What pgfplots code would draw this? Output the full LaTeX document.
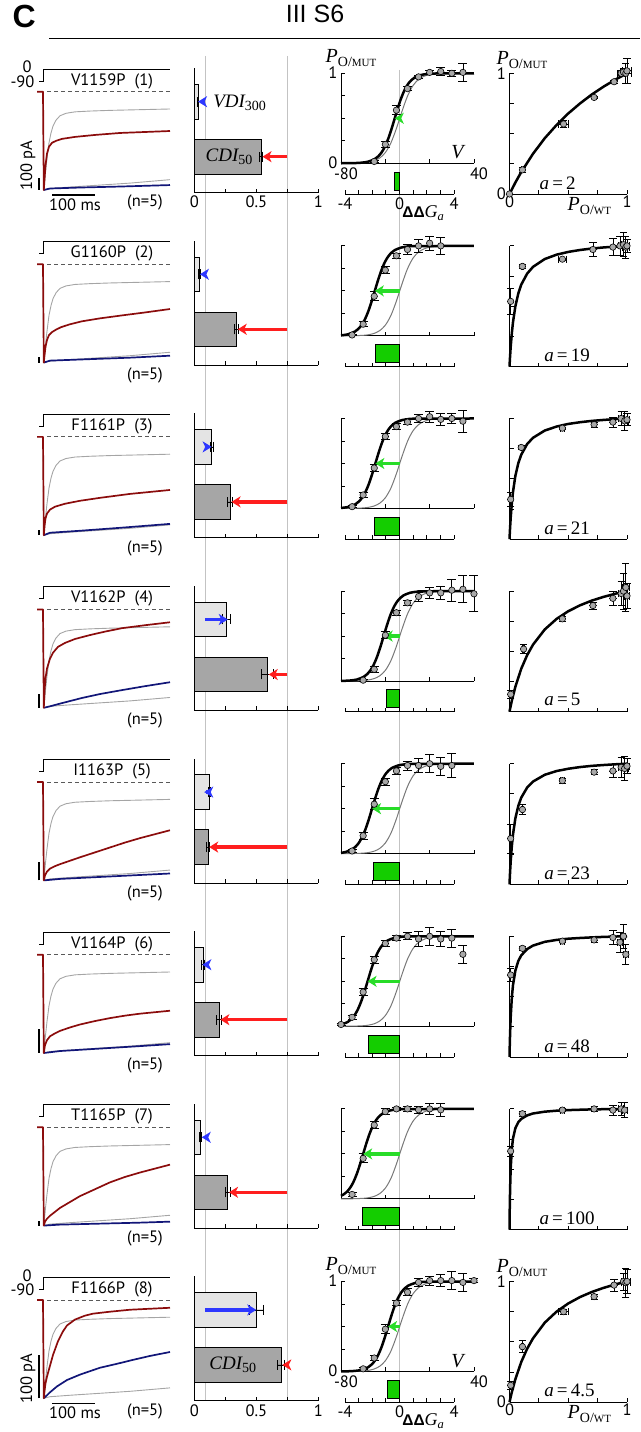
\documentclass[border=0pt]{standalone}
\usepackage{pgfplots}
\pgfplotsset{compat=1.18}
\usepackage{pgfplotstable}
\usetikzlibrary{arrows.meta}
\usepackage{fontspec}
\setmainfont{PT Sans}
\newfontfamily\tms{Liberation Serif}
\newfontfamily\ari{Liberation Sans}

\definecolor{tred}{RGB}{139,12,12}
\definecolor{tblue}{RGB}{18,22,120}
\definecolor{tgray}{RGB}{165,165,165}
\definecolor{wtgray}{RGB}{120,120,120}
\definecolor{ared}{RGB}{255,30,30}
\definecolor{ablue}{RGB}{45,55,255}
\definecolor{agreen}{RGB}{40,220,40}
\definecolor{bgreen}{RGB}{20,205,0}
\definecolor{barlight}{RGB}{228,228,228}
\definecolor{bardark}{RGB}{166,166,166}
\definecolor{ptfill}{RGB}{168,168,168}
\definecolor{vline}{RGB}{195,195,195}

\newcommand\lab{\fontsize{16.5}{18}\selectfont}
\newcommand\POmut{{\tms\fontsize{20}{21}\selectfont\itshape P}{\tms\fontsize{14}{15}\selectfont\raisebox{-3.5pt}{O/{\fontsize{11}{12}\selectfont MUT}}}}
\newcommand\POwt{{\tms\fontsize{20}{21}\selectfont\itshape P}{\tms\fontsize{14}{15}\selectfont\raisebox{-3.5pt}{O/{\fontsize{11}{12}\selectfont WT}}}}
\newcommand\VDI{{\tms\fontsize{19}{20}\selectfont\itshape VDI}{\tms\fontsize{14}{15}\selectfont\raisebox{-3.5pt}{300}}}
\newcommand\CDI{{\tms\fontsize{19}{20}\selectfont\itshape CDI}{\tms\fontsize{14}{15}\selectfont\raisebox{-3.5pt}{50}}}
\newcommand\DGa{{\ari\bfseries\fontsize{15.5}{17}\selectfont ΔΔ}{\tms\itshape\fontsize{18}{19}\selectfont G}{\tms\itshape\fontsize{12.5}{13}\selectfont\raisebox{-3pt}{a}}}
\newcommand\Vlab{{\tms\itshape\fontsize{20}{21}\selectfont V}}
\newcommand\alab[1]{{\tms\fontsize{19}{20}\selectfont\textit{a}\,=\,#1}}

\pgfplotsset{
  panel/.style={scale only axis, anchor=south west, clip=false, enlargelimits=false,
    axis line style={line width=0.8pt}, tick style={black, line width=0.8pt},
    major tick length=4pt, tick label style={font=\lab},
    /pgf/number format/assume math mode=true},
  pos/.style 2 args={at={(#1pt,{(1432-#2-\off)*1pt})}},
  trace/.style={panel, hide axis, width=131pt, height=121pt, xmin=39, xmax=170, ymin=-1, ymax=0.231},
  vbar/.style={panel, width=124pt, height=124.4pt, xmin=0, xmax=1, ymin=0, ymax=124.4,
    axis x line*=bottom, axis y line*=left, xtick={0,0.25,0.5,0.75,1}, xticklabels={}, ytick=\empty},
  boltz/.style={panel, width=133pt, height=90pt, xmin=-80, xmax=40, ymin=0, ymax=1,
    axis x line*=bottom, axis y line*=left, xtick={-80,-40,0,40}, ytick={0,0.25,0.5,0.75,1},
    xticklabels={}, yticklabels={}, xticklabel style={xshift=5pt, yshift=-1pt},
    yticklabel style={yshift=1pt}},
  dga/.style={panel, width=109pt, height=24pt, xmin=-4, xmax=4, ymin=0, ymax=24,
    axis x line*=bottom, axis y line=none, xtick={-4,-3,-2,-1,0,1,2,3,4}, xticklabels={}},
  po/.style={panel, width=117.5pt, height=120.7pt, xmin=0, xmax=1, ymin=0, ymax=1,
    axis x line*=bottom, axis y line*=left, xtick={0,0.25,0.5,0.75,1}, ytick={0,0.25,0.5,0.75,1},
    xticklabels={}, yticklabels={}, xticklabel style={yshift=2pt}},
  tr/.style={line width=1.7pt, line join=round},
  gtr/.style={tgray, line width=0.9pt, line join=round},
  arr/.style={line width=3.4pt, -{Stealth[length=9pt,width=11pt,inset=2.5pt]}},
  hbar/.style={xbar, bar shift=0pt, draw=black, line width=0.7pt,
    error bars/x dir=both, error bars/x explicit,
    error bars/error bar style={black, line width=0.7pt},
    error bars/error mark options={rotate=90, black, mark size=5pt, line width=0.7pt}},
  % error bars first, then marks on top
  errs/.style={only marks, mark=none,
    error bars/y dir=both, error bars/y explicit,
    error bars/error bar style={draw=black, line width=0.8pt},
    error bars/error mark options={rotate=90, draw=black, mark size=4.5pt, line width=0.8pt}},
  errs2/.style={errs, error bars/x dir=both, error bars/x explicit,
    error bars/error mark options={rotate=90, draw=black, mark size=3.6pt, line width=0.8pt}},
  pts/.style={only marks, mark=*, mark size=3.2pt, mark options={fill=ptfill, draw=black, line width=0.6pt}},
  mutc/.style={black, line width=2.5pt, smooth},
  poc/.style={black, line width=2.5pt, line join=round},
  gbar/.style={xbar, bar width=18, bar shift=0pt, fill=bgreen, draw=black, line width=0.7pt},
  vstep/.style={black, line width=0.9pt},
}

% WT reference curve and reference traces
\pgfplotstableread{
V P
-80 0.0003
-70 0.0013
-60 0.0062
-55 0.0133
-50 0.0282
-45 0.0591
-40 0.119
-35 0.226
-30 0.387
-25 0.576
-20 0.746
-15 0.864
-10 0.932
-5 0.967
0 0.985
10 0.997
20 0.999
40 1
}\wt
\pgfplotstableread{
t I
37 0
43 0
43.8 -1
44.5 -0.93
45.5 -0.82
47 -0.68
49 -0.52
51 -0.42
53 -0.35
56 -0.29
60 -0.245
66 -0.22
75 -0.205
90 -0.197
110 -0.19
140 -0.183
170 -0.176
}\gup
\pgfplotstableread{
t I
43.8 -1
50 -0.985
70 -0.97
100 -0.95
130 -0.93
170 -0.895
}\glow

% activation points (V, Po, sem), one table per mutant
\pgfplotstableread{
x y e
-50 0.02 0.01
-40 0.21 0.03
-30 0.59 0.05
-20 0.83 0.02
-10 0.96 0.02
0 1.01 0.02
10 1.02 0.04
20 1.0 0.03
30 1.01 0.1
}\bA
\pgfplotstableread{
x y e
-70 0.01 0.01
-60 0.13 0.03
-50 0.44 0.05
-40 0.73 0.04
-30 0.89 0.03
-20 0.96 0.06
-10 1.0 0.07
0 1.03 0.08
10 1.0 0.09
}\bB
\pgfplotstableread{
x y e
-70 0.02 0.01
-60 0.15 0.03
-50 0.45 0.04
-40 0.8 0.03
-30 0.91 0.03
-20 0.96 0.03
-10 1.0 0.04
0 1.02 0.06
10 0.99 0.07
20 1.0 0.06
30 0.97 0.12
}\bC
\pgfplotstableread{
x y e
-60 0.01 0.01
-50 0.13 0.03
-40 0.51 0.04
-30 0.76 0.03
-20 0.87 0.03
-10 0.94 0.05
0 0.98 0.06
10 0.98 0.07
20 1.01 0.12
30 1.02 0.15
40 0.97 0.2
}\bD
\pgfplotstableread{
x y e
-70 0.03 0.02
-60 0.2 0.04
-50 0.55 0.06
-40 0.8 0.04
-30 0.92 0.04
-20 0.98 0.05
-10 0.98 0.08
0 1.0 0.1
10 0.97 0.1
20 0.98 0.13
}\bE
\pgfplotstableread{
x y e
-80 0.02 0.01
-70 0.1 0.02
-60 0.38 0.04
-50 0.74 0.04
-40 0.92 0.03
-30 0.98 0.03
-20 1.0 0.04
-10 0.97 0.08
0 1.0 0.1
10 0.97 0.08
20 0.98 0.1
30 0.8 0.1
}\bF
\pgfplotstableread{
x y e
-70 0.05 0.02
-60 0.45 0.05
-50 0.82 0.04
-40 0.97 0.03
-30 1.0 0.02
-20 1.0 0.03
-10 0.99 0.04
0 1.0 0.06
10 0.99 0.07
}\bG
\pgfplotstableread{
x y e
-60 0.03 0.01
-50 0.15 0.03
-40 0.47 0.05
-30 0.76 0.03
-20 0.88 0.04
-10 0.99 0.04
0 1.01 0.05
10 1.01 0.07
20 1.01 0.1
30 0.99 0.1
40 1.01 0.02
}\bH

% Po(MUT) against Po(WT) points (x, y, x sem, y sem)
\pgfplotstableread{
x y ex ey
0 0 0 0
0.11 0.2 0.01 0.02
0.46 0.58 0.04 0.03
0.72 0.8 0 0.01
0.89 0.93 0 0.01
0.95 1.0 0.03 0.02
0.97 1.01 0.03 0.03
0.99 1.0 0.05 0.08
1.0 1.02 0.04 0.1
}\pA
\pgfplotstableread{
x y ex ey
0.01 0.54 0 0.11
0.11 0.83 0.01 0.02
0.45 0.89 0.03 0.01
0.71 0.97 0 0.06
0.88 0.99 0 0.07
0.94 1.0 0.01 0.08
0.97 1.01 0.02 0.1
0.99 0.99 0.03 0.09
1.0 1.0 0.02 0.05
}\pB
\pgfplotstableread{
x y ex ey
0.01 0.33 0 0.06
0.1 0.76 0 0.02
0.45 0.92 0.02 0.01
0.72 0.95 0 0.02
0.88 0.97 0 0.04
0.95 1.0 0.02 0.06
0.98 0.98 0.03 0.08
1.0 0.99 0.02 0.05
}\pC
\pgfplotstableread{
x y ex ey
0.01 0.145 0 0.03
0.12 0.52 0.01 0.04
0.45 0.77 0.02 0.02
0.71 0.88 0 0.03
0.88 0.94 0 0.06
0.95 0.98 0.02 0.1
0.97 1.0 0.02 0.15
0.99 1.03 0.03 0.2
1.0 0.96 0.02 0.1
}\pD
\pgfplotstableread{
x y ex ey
0.01 0.38 0 0.12
0.11 0.62 0.01 0.04
0.45 0.86 0.02 0.02
0.72 0.93 0 0.02
0.88 0.94 0 0.05
0.95 0.97 0.02 0.08
0.98 0.96 0.03 0.1
1.0 0.98 0.02 0.06
}\pE
\pgfplotstableread{
x y ex ey
0.01 0.68 0 0.05
0.11 0.9 0 0.02
0.45 0.96 0.02 0.01
0.72 0.97 0 0.02
0.88 0.99 0 0.06
0.94 0.95 0.02 0.08
0.97 1.0 0.02 0.1
0.99 0.85 0.02 0.08
}\pF
\pgfplotstableread{
x y ex ey
0.01 0.65 0 0.04
0.11 0.96 0 0.02
0.45 0.99 0.02 0.01
0.72 1.0 0 0.02
0.88 0.99 0 0.04
0.95 1.0 0.02 0.05
0.98 0.99 0.02 0.06
}\pG
\pgfplotstableread{
x y ex ey
0.01 0.14 0 0.03
0.11 0.46 0.01 0.05
0.46 0.75 0.04 0.02
0.72 0.875 0 0.02
0.89 0.97 0 0.05
0.97 1.0 0.02 0.07
0.99 0.99 0.04 0.12
1.0 1.0 0.03 0.1
}\pH

\newcommand\dash{\draw[dash pattern=on 4pt off 3pt, black!65, line width=0.8pt] (axis cs:47,0) -- (axis cs:170,0);}
\newcommand\bpts[1]{\addplot[errs] table[x=x, y=y, y error=e] {#1};
  \addplot[pts] table[x=x, y=y] {#1};}
\newcommand\ppts[1]{\addplot[errs2] table[x=x, y=y, x error=ex, y error=ey] {#1};
  \addplot[pts] table[x=x, y=y] {#1};}

\begin{document}
\begin{tikzpicture}[x=1pt,y=1pt]
\useasboundingbox (0,0) rectangle (640,1432);
\node[font=\ari\bfseries\fontsize{32}{34}\selectfont, anchor=west] at (9,1432-17) {C};
\node[font=\ari\fontsize{25}{27}\selectfont] at (315,1432-14) {III S6};
\draw[line width=1.2pt] (49,1432-38.3) -- (640,1432-38.3);
\draw[vline, line width=0.8pt] (205.5,1432-56) -- (205.5,31.1);
\draw[vline, line width=0.8pt] (287.3,1432-56) -- (287.3,31.1);
\draw[vline, line width=0.8pt] (399.5,1432-70) -- (399.5,29.8);

%================ ROW 1
\def\off{0}
\begin{axis}[trace, pos={39}{190}]
\addplot[vstep] coordinates {(39,0.109)(43,0.109)(43,0.231)(170,0.231)};
\dash
\addplot[gtr] table {\gup};
\addplot[gtr] table {\glow};
\addplot[tblue, tr] coordinates {(43.8,-1)(50,-0.985)(80,-0.975)(120,-0.965)(170,-0.95)};
\addplot[tred, tr] coordinates {(37,0)(43,0)(43.8,-1)(44.6,-0.88)(45.5,-0.75)(47,-0.63)(49,-0.56)(52,-0.52)(56,-0.5)(62,-0.48)(75,-0.46)(95,-0.44)(120,-0.42)(145,-0.41)(170,-0.40)};
\draw[line width=1.3pt] (axis cs:39,-1) -- (axis cs:39,-0.878);
\node[font=\lab] at (axis cs:112,0.109) {V1159P\hspace{0.55em}(1)};
\node[font=\lab] at (axis cs:145,-1.13) {(n=5)};
\node[font=\lab, anchor=east] at (axis cs:38,0.105) {-90};
\node[font=\lab] at (axis cs:27,0.25) {0};
\node[font=\lab, rotate=90] at (axis cs:28,-0.75) {100 pA};
\draw[line width=1.3pt] (axis cs:52,-1.051) -- (axis cs:95,-1.051);
\node[font=\lab] at (axis cs:75,-1.15) {100 ms};
\end{axis}
\begin{axis}[vbar, pos={194.3}{192.7}, xticklabels={0,,0.5,,1}]
\addplot[hbar, bar width=34.7, fill=barlight] coordinates {(0.03,91) +- (0.005,0)};
\addplot[hbar, bar width=34.7, fill=bardark] coordinates {(0.54,36) +- (0.012,0)};
\addplot[ablue, arr] coordinates {(0.09,91)(0.03,91)};
\addplot[ared, arr] coordinates {(0.75,36)(0.55,36)};
\node[anchor=west] at (axis cs:0.125,89.7) {\VDI};
\node at (axis cs:0.28,36) {\CDI};
\end{axis}
\begin{axis}[boltz, pos={341}{163.3}, xticklabels={-80,,,40}, yticklabels={0,,,,1}]
\addplot[wtgray, line width=1pt, smooth] table {\wt};
\addplot[mutc] coordinates {(-80,0.0003)(-67.5,0.0025)(-61.5,0.0067)(-55.5,0.018)(-49.5,0.0474)(-46.5,0.0759)(-43.5,0.119)(-40.5,0.182)(-37.5,0.269)(-34.5,0.378)(-31.5,0.5)(-28.5,0.622)(-25.5,0.731)(-22.5,0.818)(-19.5,0.881)(-16.5,0.924)(-13.5,0.953)(-7.5,0.982)(-1.5,0.993)(4.5,0.9975)(40,1)};
\bpts{\bA}
\addplot[agreen, arr] coordinates {(-27,0.5)(-31.5,0.5)};
\node[anchor=west] at (axis cs:-97,1.17) {\POmut};
\node at (axis cs:25,0.12) {\Vlab};
\end{axis}
\begin{axis}[dga, pos={345}{194}, xticklabels={-4,,,,0,,,,4}]
\addplot[gbar] coordinates {(-0.4,13)};
\node[anchor=west, inner sep=0pt] at (axis cs:0.2,-19) {\DGa};
\end{axis}
\begin{axis}[po, pos={509.5}{194}, xticklabels={0,,,,1}, yticklabels={0,,,,1}]
\addplot[poc] coordinates {(0,0)(0.05,0.095)(0.1,0.182)(0.2,0.333)(0.3,0.462)(0.4,0.571)(0.5,0.667)(0.6,0.75)(0.7,0.824)(0.8,0.889)(0.9,0.947)(1,1)};
\ppts{\pA}
\node at (axis cs:0.41,0.09) {\alab{2}};
\node[anchor=west] at (axis cs:-0.14,1.11) {\POmut};
\node at (axis cs:0.68,-0.1) {\POwt};
\end{axis}

%================ ROW 2
\def\off{172.6}
\begin{axis}[trace, pos={39}{190}]
\addplot[vstep] coordinates {(39,0.109)(43,0.109)(43,0.231)(170,0.231)};
\dash
\addplot[gtr] table {\gup};
\addplot[gtr] table {\glow};
\addplot[tblue, tr] coordinates {(43.8,-1)(50,-0.98)(90,-0.965)(130,-0.95)(170,-0.93)};
\addplot[tred, tr] coordinates {(37,0)(43,0)(43.8,-1)(44.6,-0.92)(45.5,-0.84)(47,-0.77)(49,-0.72)(52,-0.69)(56,-0.665)(61,-0.64)(70,-0.61)(82,-0.58)(100,-0.55)(122,-0.52)(145,-0.49)(170,-0.455)};
\draw[line width=1.3pt] (axis cs:39,-1) -- (axis cs:39,-0.939);
\node[font=\lab] at (axis cs:112,0.109) {G1160P\hspace{0.55em}(2)};
\node[font=\lab] at (axis cs:145,-1.13) {(n=5)};
\end{axis}
\begin{axis}[vbar, pos={194.3}{192.7}]
\addplot[hbar, bar width=34.7, fill=barlight] coordinates {(0.04,91) +- (0.005,0)};
\addplot[hbar, bar width=34.7, fill=bardark] coordinates {(0.34,36) +- (0.015,0)};
\addplot[ablue, arr] coordinates {(0.09,91)(0.045,91)};
\addplot[ared, arr] coordinates {(0.75,36)(0.35,36)};
\end{axis}
\begin{axis}[boltz, pos={341}{163.3}]
\addplot[wtgray, line width=1pt, smooth] table {\wt};
\addplot[mutc] coordinates {(-80,0.006)(-73.5,0.018)(-67.5,0.0474)(-64.5,0.0759)(-61.5,0.119)(-58.5,0.182)(-55.5,0.269)(-52.5,0.378)(-49.5,0.5)(-46.5,0.622)(-43.5,0.731)(-40.5,0.818)(-37.5,0.881)(-34.5,0.924)(-31.5,0.953)(-25.5,0.982)(-19.5,0.993)(-13.5,0.9975)(40,1)};
\bpts{\bB}
\addplot[agreen, arr] coordinates {(-27,0.5)(-49.5,0.5)};
\end{axis}
\begin{axis}[dga, pos={345}{194}]
\addplot[gbar] coordinates {(-1.75,13)};
\end{axis}
\begin{axis}[po, pos={509.5}{194}]
\addplot[poc] coordinates {(0,0)(0.002,0.037)(0.005,0.087)(0.01,0.161)(0.02,0.279)(0.03,0.37)(0.05,0.5)(0.075,0.606)(0.1,0.679)(0.15,0.77)(0.2,0.826)(0.3,0.891)(0.4,0.927)(0.5,0.95)(0.6,0.966)(0.7,0.978)(0.8,0.987)(0.9,0.994)(1,1)};
\ppts{\pB}
\node at (axis cs:0.49,0.09) {\alab{19}};
\end{axis}

%================ ROW 3
\def\off{345.2}
\begin{axis}[trace, pos={39}{190}]
\addplot[vstep] coordinates {(39,0.109)(43,0.109)(43,0.231)(170,0.231)};
\dash
\addplot[gtr] table {\gup};
\addplot[gtr] table {\glow};
\addplot[tblue, tr] coordinates {(43.8,-1)(50,-0.975)(80,-0.955)(120,-0.925)(170,-0.885)};
\addplot[tred, tr] coordinates {(37,0)(43,0)(43.8,-1)(44.6,-0.9)(45.5,-0.83)(47,-0.78)(50,-0.74)(55,-0.71)(65,-0.68)(80,-0.65)(100,-0.62)(130,-0.58)(150,-0.56)(170,-0.54)};
\draw[line width=1.3pt] (axis cs:39,-1) -- (axis cs:39,-0.949);
\node[font=\lab] at (axis cs:112,0.109) {F1161P\hspace{0.55em}(3)};
\node[font=\lab] at (axis cs:145,-1.13) {(n=5)};
\end{axis}
\begin{axis}[vbar, pos={194.3}{192.7}]
\addplot[hbar, bar width=34.7, fill=barlight] coordinates {(0.14,91) +- (0.01,0)};
\addplot[hbar, bar width=34.7, fill=bardark] coordinates {(0.29,36) +- (0.02,0)};
\addplot[ablue, arr] coordinates {(0.09,91)(0.14,91)};
\addplot[ared, arr] coordinates {(0.75,36)(0.30,36)};
\end{axis}
\begin{axis}[boltz, pos={341}{163.3}]
\addplot[wtgray, line width=1pt, smooth] table {\wt};
\addplot[mutc] coordinates {(-80,0.0057)(-73,0.018)(-67,0.0474)(-64,0.0759)(-61,0.119)(-58,0.182)(-55,0.269)(-52,0.378)(-49,0.5)(-46,0.622)(-43,0.731)(-40,0.818)(-37,0.881)(-34,0.924)(-31,0.953)(-25,0.982)(-19,0.993)(-13,0.9975)(40,1)};
\bpts{\bC}
\addplot[agreen, arr] coordinates {(-27,0.5)(-49,0.5)};
\end{axis}
\begin{axis}[dga, pos={345}{194}]
\addplot[gbar] coordinates {(-1.85,13)};
\end{axis}
\begin{axis}[po, pos={509.5}{194}]
\addplot[poc] coordinates {(0,0)(0.002,0.04)(0.005,0.0955)(0.01,0.175)(0.02,0.3)(0.03,0.394)(0.05,0.525)(0.075,0.63)(0.1,0.7)(0.15,0.788)(0.2,0.84)(0.3,0.9)(0.4,0.933)(0.5,0.955)(0.6,0.969)(0.7,0.98)(0.8,0.988)(0.9,0.995)(1,1)};
\ppts{\pC}
\node at (axis cs:0.49,0.09) {\alab{21}};
\end{axis}

%================ ROW 4
\def\off{517.8}
\begin{axis}[trace, pos={39}{190}]
\addplot[vstep] coordinates {(39,0.109)(43,0.109)(43,0.231)(170,0.231)};
\dash
\addplot[gtr] table {\gup};
\addplot[gtr] table {\glow};
\addplot[tblue, tr] coordinates {(43.8,-1)(50,-0.985)(61,-0.955)(82,-0.9)(100,-0.86)(122,-0.82)(145,-0.78)(170,-0.74)};
\addplot[tred, tr] coordinates {(37,0)(43,0)(43.8,-1)(44.6,-0.82)(45.5,-0.7)(47,-0.6)(50,-0.5)(53,-0.44)(58,-0.38)(65,-0.34)(75,-0.3)(90,-0.26)(105,-0.225)(122,-0.19)(145,-0.16)(170,-0.13)};
\draw[line width=1.3pt] (axis cs:39,-1) -- (axis cs:39,-0.858);
\node[font=\lab] at (axis cs:112,0.109) {V1162P\hspace{0.55em}(4)};
\node[font=\lab] at (axis cs:145,-1.13) {(n=5)};
\end{axis}
\begin{axis}[vbar, pos={194.3}{192.7}]
\addplot[hbar, bar width=34.7, fill=barlight] coordinates {(0.26,91) +- (0.03,0)};
\addplot[hbar, bar width=34.7, fill=bardark] coordinates {(0.59,36) +- (0.05,0)};
\addplot[ablue, arr] coordinates {(0.09,91)(0.27,91)};
\addplot[ared, arr] coordinates {(0.75,36)(0.60,36)};
\end{axis}
\begin{axis}[boltz, pos={341}{163.3}]
\addplot[wtgray, line width=1pt, smooth] table {\wt};
\addplot[mutc] coordinates {(-80,0.0016)(-71.5,0.0067)(-65.5,0.018)(-59.5,0.0474)(-56.5,0.0759)(-53.5,0.119)(-50.5,0.182)(-47.5,0.269)(-44.5,0.378)(-41.5,0.5)(-38.5,0.622)(-35.5,0.731)(-32.5,0.818)(-29.5,0.881)(-26.5,0.924)(-23.5,0.953)(-17.5,0.982)(-11.5,0.993)(-5.5,0.9975)(40,1)};
\bpts{\bD}
\addplot[agreen, arr] coordinates {(-27,0.5)(-41.5,0.5)};
\end{axis}
\begin{axis}[dga, pos={345}{194}]
\addplot[gbar] coordinates {(-1.0,13)};
\end{axis}
\begin{axis}[po, pos={509.5}{194}]
\addplot[poc] coordinates {(0,0)(0.01,0.048)(0.02,0.093)(0.05,0.208)(0.1,0.357)(0.15,0.469)(0.2,0.556)(0.3,0.682)(0.4,0.769)(0.5,0.833)(0.6,0.882)(0.7,0.921)(0.8,0.952)(0.9,0.978)(1,1)};
\ppts{\pD}
\node at (axis cs:0.45,0.1) {\alab{5}};
\end{axis}

%================ ROW 5
\def\off{690.4}
\begin{axis}[trace, pos={39}{190}]
\addplot[vstep] coordinates {(39,0.109)(43,0.109)(43,0.231)(170,0.231)};
\dash
\addplot[gtr] table {\gup};
\addplot[gtr] table {\glow};
\addplot[tblue, tr] coordinates {(43.8,-1)(60,-0.985)(100,-0.965)(140,-0.945)(170,-0.93)};
\addplot[tred, tr] coordinates {(37,0)(43,0)(43.8,-1)(45,-0.95)(47,-0.91)(50,-0.88)(55,-0.855)(60,-0.835)(70,-0.8)(80,-0.765)(95,-0.715)(110,-0.665)(125,-0.615)(140,-0.57)(155,-0.53)(170,-0.49)};
\draw[line width=1.3pt] (axis cs:39,-1) -- (axis cs:39,-0.817);
\node[font=\lab] at (axis cs:112,0.109) {I1163P\hspace{0.55em}(5)};
\node[font=\lab] at (axis cs:145,-1.13) {(n=5)};
\end{axis}
\begin{axis}[vbar, pos={194.3}{192.7}]
\addplot[hbar, bar width=34.7, fill=barlight] coordinates {(0.12,91) +- (0.01,0)};
\addplot[hbar, bar width=34.7, fill=bardark] coordinates {(0.11,36) +- (0.01,0)};
\addplot[ablue, arr] coordinates {(0.095,91)(0.08,91)};
\addplot[ared, arr] coordinates {(0.75,36)(0.12,36)};
\end{axis}
\begin{axis}[boltz, pos={341}{163.3}]
\addplot[wtgray, line width=1pt, smooth] table {\wt};
\addplot[mutc] coordinates {(-80,0.0093)(-76,0.018)(-70,0.0474)(-67,0.0759)(-64,0.119)(-61,0.182)(-58,0.269)(-55,0.378)(-52,0.5)(-49,0.622)(-46,0.731)(-43,0.818)(-40,0.881)(-37,0.924)(-34,0.953)(-28,0.982)(-22,0.993)(-16,0.9975)(40,1)};
\bpts{\bE}
\addplot[agreen, arr] coordinates {(-27,0.5)(-52,0.5)};
\end{axis}
\begin{axis}[dga, pos={345}{194}]
\addplot[gbar] coordinates {(-1.9,13)};
\end{axis}
\begin{axis}[po, pos={509.5}{194}]
\addplot[poc] coordinates {(0,0)(0.002,0.044)(0.005,0.104)(0.01,0.189)(0.02,0.319)(0.03,0.416)(0.05,0.548)(0.075,0.651)(0.1,0.719)(0.15,0.802)(0.2,0.852)(0.3,0.908)(0.4,0.939)(0.5,0.958)(0.6,0.972)(0.7,0.982)(0.8,0.989)(0.9,0.995)(1,1)};
\ppts{\pE}
\node at (axis cs:0.49,0.09) {\alab{23}};
\end{axis}

%================ ROW 6
\def\off{863}
\begin{axis}[trace, pos={39}{190}]
\addplot[vstep] coordinates {(39,0.109)(43,0.109)(43,0.231)(170,0.231)};
\dash
\addplot[gtr] table {\gup};
\addplot[gtr] table {\glow};
\addplot[tblue, tr] coordinates {(43.8,-1)(60,-0.98)(100,-0.955)(140,-0.93)(170,-0.91)};
\addplot[tred, tr] coordinates {(37,0)(43,0)(43.8,-1)(45,-0.92)(47,-0.87)(50,-0.83)(55,-0.8)(60,-0.775)(70,-0.74)(80,-0.71)(95,-0.675)(110,-0.645)(125,-0.62)(140,-0.6)(155,-0.585)(170,-0.57)};
\draw[line width=1.3pt] (axis cs:39,-1) -- (axis cs:39,-0.756);
\node[font=\lab] at (axis cs:112,0.109) {V1164P\hspace{0.55em}(6)};
\node[font=\lab] at (axis cs:145,-1.13) {(n=5)};
\end{axis}
\begin{axis}[vbar, pos={194.3}{192.7}]
\addplot[hbar, bar width=34.7, fill=barlight] coordinates {(0.07,91) +- (0.01,0)};
\addplot[hbar, bar width=34.7, fill=bardark] coordinates {(0.2,36) +- (0.02,0)};
\addplot[ablue, arr] coordinates {(0.095,91)(0.065,91)};
\addplot[ared, arr] coordinates {(0.75,36)(0.21,36)};
\end{axis}
\begin{axis}[boltz, pos={341}{163.3}]
\addplot[wtgray, line width=1pt, smooth] table {\wt};
\addplot[mutc] coordinates {(-80,0.018)(-74,0.0474)(-71,0.0759)(-68,0.119)(-65,0.182)(-62,0.269)(-59,0.378)(-56,0.5)(-53,0.622)(-50,0.731)(-47,0.818)(-44,0.881)(-41,0.924)(-38,0.953)(-32,0.982)(-26,0.993)(-20,0.9975)(40,1)};
\bpts{\bF}
\addplot[agreen, arr] coordinates {(-27,0.5)(-56,0.5)};
\end{axis}
\begin{axis}[dga, pos={345}{194}]
\addplot[gbar] coordinates {(-2.3,13)};
\end{axis}
\begin{axis}[po, pos={509.5}{194}]
\addplot[poc] coordinates {(0,0)(0.001,0.046)(0.002,0.088)(0.005,0.194)(0.01,0.327)(0.02,0.495)(0.03,0.598)(0.05,0.716)(0.075,0.796)(0.1,0.842)(0.15,0.894)(0.2,0.923)(0.3,0.954)(0.4,0.97)(0.5,0.98)(0.6,0.986)(0.7,0.991)(0.8,0.995)(0.9,0.998)(1,1)};
\ppts{\pF}
\node at (axis cs:0.49,0.09) {\alab{48}};
\end{axis}

%================ ROW 7
\def\off{1035.6}
\begin{axis}[trace, pos={39}{190}]
\addplot[vstep] coordinates {(39,0.109)(43,0.109)(43,0.231)(170,0.231)};
\dash
\addplot[gtr] table {\gup};
\addplot[gtr] table {\glow};
\addplot[tblue, tr] coordinates {(43.8,-1)(60,-0.99)(100,-0.98)(140,-0.97)(170,-0.96)};
\addplot[tred, tr] coordinates {(37,0)(43,0)(43.8,-1)(45,-0.96)(47,-0.93)(50,-0.9)(55,-0.86)(60,-0.82)(70,-0.76)(80,-0.7)(95,-0.63)(110,-0.56)(125,-0.505)(140,-0.46)(155,-0.42)(170,-0.38)};
\draw[line width=1.3pt] (axis cs:39,-1) -- (axis cs:39,-0.949);
\node[font=\lab] at (axis cs:112,0.109) {T1165P\hspace{0.55em}(7)};
\node[font=\lab] at (axis cs:145,-1.13) {(n=5)};
\end{axis}
\begin{axis}[vbar, pos={194.3}{192.7}]
\addplot[hbar, bar width=34.7, fill=barlight] coordinates {(0.05,91) +- (0.008,0)};
\addplot[hbar, bar width=34.7, fill=bardark] coordinates {(0.27,36) +- (0.02,0)};
\addplot[ablue, arr] coordinates {(0.095,91)(0.06,91)};
\addplot[ared, arr] coordinates {(0.75,36)(0.28,36)};
\end{axis}
\begin{axis}[boltz, pos={341}{163.3}]
\addplot[wtgray, line width=1pt, smooth] table {\wt};
\addplot[mutc] coordinates {(-80,0.034)(-78,0.0474)(-75,0.0759)(-72,0.119)(-69,0.182)(-66,0.269)(-63,0.378)(-60,0.5)(-57,0.622)(-54,0.731)(-51,0.818)(-48,0.881)(-45,0.924)(-42,0.953)(-36,0.982)(-30,0.993)(-24,0.9975)(40,1)};
\bpts{\bG}
\addplot[agreen, arr] coordinates {(-27,0.5)(-60,0.5)};
\end{axis}
\begin{axis}[dga, pos={345}{194}]
\addplot[gbar] coordinates {(-2.75,13)};
\end{axis}
\begin{axis}[po, pos={509.5}{194}]
\addplot[poc] coordinates {(0,0)(0.001,0.091)(0.002,0.167)(0.005,0.334)(0.01,0.503)(0.02,0.671)(0.03,0.756)(0.05,0.84)(0.075,0.89)(0.1,0.917)(0.15,0.946)(0.2,0.962)(0.3,0.977)(0.4,0.985)(0.5,0.99)(0.7,0.996)(1,1)};
\ppts{\pG}
\node at (axis cs:0.49,0.09) {\alab{100}};
\end{axis}

%================ ROW 8
\def\off{1208.2}
\begin{axis}[trace, pos={39}{190}]
\addplot[vstep] coordinates {(39,0.109)(43,0.109)(43,0.231)(170,0.231)};
\dash
\addplot[gtr] table {\gup};
\addplot[gtr] table {\glow};
\addplot[tblue, tr] coordinates {(43.8,-1)(47,-0.97)(50,-0.94)(57,-0.88)(67,-0.815)(80,-0.76)(100,-0.69)(117,-0.65)(133,-0.61)(150,-0.57)(170,-0.53)};
\addplot[tred, tr] coordinates {(37,0)(43,0)(43.8,-1)(44.6,-0.92)(45.5,-0.85)(47,-0.78)(50,-0.67)(53,-0.56)(58,-0.42)(63,-0.32)(67,-0.26)(75,-0.2)(85,-0.16)(93,-0.14)(110,-0.12)(130,-0.1)(150,-0.09)(170,-0.08)};
\draw[line width=1.3pt] (axis cs:39,-1) -- (axis cs:39,-0.563);
\node[font=\lab] at (axis cs:112,0.109) {F1166P\hspace{0.55em}(8)};
\node[font=\lab] at (axis cs:145,-1.13) {(n=5)};
\node[font=\lab, anchor=east] at (axis cs:38,0.105) {-90};
\node[font=\lab] at (axis cs:27,0.25) {0};
\node[font=\lab, rotate=90] at (axis cs:28,-0.8) {100 pA};
\draw[line width=1.3pt] (axis cs:52,-1.051) -- (axis cs:95,-1.051);
\node[font=\lab] at (axis cs:75,-1.15) {100 ms};
\end{axis}
\begin{axis}[vbar, pos={194.3}{192.7}, xticklabels={0,,0.5,,1}]
\addplot[hbar, bar width=34.7, fill=barlight] coordinates {(0.5,91) +- (0.06,0)};
\addplot[hbar, bar width=34.7, fill=bardark] coordinates {(0.7,36) +- (0.03,0)};
\addplot[ablue, arr] coordinates {(0.09,91)(0.5,91)};
\addplot[ared, arr] coordinates {(0.75,36)(0.71,36)};
\node at (axis cs:0.31,36) {\CDI};
\end{axis}
\begin{axis}[boltz, pos={341}{163.3}, xticklabels={-80,,,40}, yticklabels={0,,,,1}]
\addplot[wtgray, line width=1pt, smooth] table {\wt};
\addplot[mutc] coordinates {(-80,0.0008)(-73.5,0.0025)(-67.5,0.0067)(-61.5,0.018)(-55.5,0.0474)(-52.5,0.0759)(-49.5,0.119)(-46.5,0.182)(-43.5,0.269)(-40.5,0.378)(-37.5,0.5)(-34.5,0.622)(-31.5,0.731)(-28.5,0.818)(-25.5,0.881)(-22.5,0.924)(-19.5,0.953)(-13.5,0.982)(-7.5,0.993)(-1.5,0.9975)(40,1)};
\bpts{\bH}
\addplot[agreen, arr] coordinates {(-27,0.5)(-37.5,0.5)};
\node[anchor=west] at (axis cs:-97,1.17) {\POmut};
\node at (axis cs:25,0.12) {\Vlab};
\end{axis}
\begin{axis}[dga, pos={345}{194}, xticklabels={-4,,,,0,,,,4}]
\addplot[gbar] coordinates {(-0.9,13)};
\node[anchor=west, inner sep=0pt] at (axis cs:0.2,-19) {\DGa};
\end{axis}
\begin{axis}[po, pos={509.5}{194}, xticklabels={0,,,,1}, yticklabels={0,,,,1}]
\addplot[poc] coordinates {(0,0)(0.01,0.0435)(0.02,0.084)(0.05,0.191)(0.1,0.333)(0.15,0.443)(0.2,0.529)(0.3,0.659)(0.4,0.75)(0.5,0.818)(0.6,0.871)(0.7,0.913)(0.8,0.947)(0.9,0.976)(1,1)};
\ppts{\pH}
\node at (axis cs:0.51,0.1) {\alab{4.5}};
\node[anchor=west] at (axis cs:-0.14,1.11) {\POmut};
\node at (axis cs:0.68,-0.1) {\POwt};
\end{axis}
\end{tikzpicture}
\end{document}
